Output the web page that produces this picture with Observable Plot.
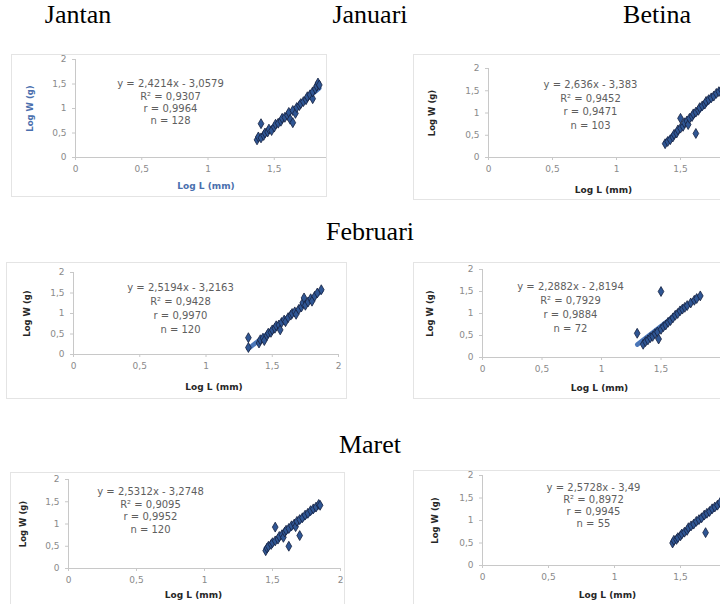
<!DOCTYPE html>
<html><head><meta charset="utf-8">
<script src="https://cdn.jsdelivr.net/npm/d3@7"></script>
<script src="https://cdn.jsdelivr.net/npm/@observablehq/plot@0.6"></script>
<style>
html,body{margin:0;padding:0;background:#fff}
body{width:720px;height:604px;overflow:hidden;position:relative;font-family:"Liberation Serif","Times New Roman",serif}
.h{position:absolute;font-size:26px;color:#000;transform:translate(-50%,-50%);white-space:nowrap;line-height:1}
.panel{position:absolute;overflow:hidden;background:#fff}
.panel svg{position:absolute;left:0;top:0;overflow:visible;max-width:none !important}
.frame{position:absolute;border:1px solid #e4e4e4;box-sizing:border-box;pointer-events:none}
</style></head><body>
<script>
// ---- headings ----
const months = ["Januari", "Februari", "Maret"];
const sexes = ["Jantan", "Betina"];

// ---- axis ticks ----
const xTicksAll = [0, 0.5, 1, 1.5, 2];
const xTicksCut = [0, 0.5, 1, 1.5];
const yTicks = [0, 0.5, 1, 1.5, 2];
const xLabel = "Log L (mm)";
const yLabel = "Log W (g)";

// ---- data (log L, log W) ----
const janJantan = [[1.37,0.36],[1.38,0.42],[1.40,0.40],[1.40,0.69],[1.42,0.45],[1.43,0.50],[1.45,0.52],[1.46,0.58],[1.48,0.55],[1.50,0.62],[1.51,0.68],[1.53,0.70],[1.55,0.74],[1.56,0.80],[1.58,0.82],[1.60,0.86],[1.61,0.92],[1.62,0.78],[1.64,0.71],[1.64,0.96],[1.66,0.90],[1.67,1.02],[1.69,1.06],[1.70,1.10],[1.72,1.14],[1.74,1.18],[1.75,1.24],[1.77,1.28],[1.79,1.20],[1.79,1.34],[1.81,1.40],[1.82,1.46],[1.83,1.52],[1.84,1.48]];
const janBetina = [[1.38,0.31],[1.40,0.36],[1.42,0.40],[1.44,0.46],[1.45,0.52],[1.47,0.55],[1.48,0.62],[1.50,0.66],[1.50,0.88],[1.52,0.70],[1.53,0.78],[1.55,0.82],[1.56,0.74],[1.57,0.88],[1.59,0.92],[1.60,0.98],[1.62,0.54],[1.62,1.02],[1.64,1.06],[1.65,1.12],[1.67,1.16],[1.69,1.20],[1.70,1.26],[1.72,1.30],[1.74,1.34],[1.76,1.38],[1.78,1.44],[1.80,1.48],[1.82,1.52],[1.85,1.58]];
const febJantan = [[1.32,0.41],[1.32,0.17],[1.40,0.28],[1.41,0.36],[1.43,0.40],[1.44,0.34],[1.46,0.46],[1.47,0.52],[1.49,0.54],[1.50,0.60],[1.52,0.64],[1.53,0.70],[1.55,0.72],[1.56,0.60],[1.57,0.78],[1.59,0.84],[1.60,0.80],[1.62,0.90],[1.64,0.96],[1.65,1.00],[1.67,1.04],[1.68,0.98],[1.70,1.10],[1.72,1.16],[1.73,1.26],[1.74,1.38],[1.75,1.20],[1.77,1.28],[1.79,1.36],[1.80,1.30],[1.82,1.42],[1.84,1.50],[1.87,1.58]];
const febBetina = [[1.30,0.55],[1.50,1.50],[1.35,0.30],[1.37,0.36],[1.39,0.40],[1.41,0.45],[1.43,0.48],[1.45,0.54],[1.47,0.58],[1.48,0.42],[1.50,0.64],[1.52,0.70],[1.54,0.74],[1.56,0.80],[1.58,0.84],[1.60,0.90],[1.62,0.96],[1.64,1.00],[1.66,1.06],[1.68,1.10],[1.70,1.14],[1.72,1.18],[1.75,1.24],[1.78,1.30],[1.80,1.34],[1.83,1.40]];
const marJantan = [[1.45,0.40],[1.46,0.46],[1.47,0.50],[1.49,0.54],[1.50,0.58],[1.52,0.62],[1.52,0.93],[1.54,0.66],[1.55,0.72],[1.57,0.76],[1.58,0.70],[1.59,0.82],[1.60,0.86],[1.62,0.50],[1.62,0.90],[1.64,0.96],[1.66,1.00],[1.67,0.94],[1.68,1.06],[1.70,0.74],[1.70,1.10],[1.72,1.14],[1.74,1.20],[1.76,1.24],[1.78,1.30],[1.80,1.34],[1.82,1.38],[1.84,1.44],[1.85,1.42]];
const marBetina = [[1.44,0.50],[1.45,0.56],[1.47,0.58],[1.48,0.62],[1.50,0.66],[1.51,0.70],[1.53,0.74],[1.55,0.78],[1.56,0.84],[1.58,0.88],[1.60,0.92],[1.62,0.98],[1.64,1.02],[1.66,1.06],[1.68,1.12],[1.69,0.73],[1.70,1.16],[1.72,1.20],[1.74,1.26],[1.76,1.30],[1.78,1.34],[1.80,1.40]];

// ---- regression annotations ----
const eqJanJantan = ["y = 2,4214x - 3,0579", "R² = 0,9307", "r = 0,9964", "n = 128"];
const eqJanBetina = ["y = 2,636x - 3,383", "R² = 0,9452", "r = 0,9471", "n = 103"];
const eqFebJantan = ["y = 2,5194x - 3,2163", "R² = 0,9428", "r = 0,9970", "n = 120"];
const eqFebBetina = ["y = 2,2882x - 2,8194", "R² = 0,7929", "r = 0,9884", "n = 72"];
const eqMarJantan = ["y = 2,5312x - 3,2748", "R² = 0,9095", "r = 0,9952", "n = 120"];
const eqMarBetina = ["y = 2,5728x - 3,49", "R² = 0,8972", "r = 0,9945", "n = 55"];

const fmt = d => String(d).replace(".", ",");
const sans = "DejaVu Sans, Verdana, sans-serif";

// ---- headings layout ----
function heading(text, cx, cy) {
  const el = document.createElement("div");
  el.className = "h"; el.textContent = text;
  el.style.left = cx + "px"; el.style.top = cy + "px";
  document.body.appendChild(el);
}
heading(sexes[0], 78, 15);
heading(months[0], 370, 15);
heading(sexes[1], 657, 15);
heading(months[1], 370, 232);
heading(months[2], 370, 445);

// ---- panel layout (page pixels) ----
const layout = [
  {pts: janJantan, eq: eqJanJantan, xt: xTicksCut, box:[11,54,326,196], x0:75, x2:340, yTop:59, yBot:157, eqDx:95, eqDy:19, lh:1.23, xlDx:-2, xlDy:29, ylDx:-45, blue:true},
  {pts: janBetina, eq: eqJanBetina, xt: xTicksCut, box:[413,54,720,199], x0:488, x2:744, yTop:68, yBot:157, eqDx:102, eqDy:10, lh:1.35, xlDx:-13, xlDy:33, ylDx:-56},
  {pts: febJantan, eq: eqFebJantan, xt: xTicksAll, box:[6,262,346,398], x0:73, x2:338, yTop:272, yBot:354, eqDx:107, eqDy:9, lh:1.4, xlDx:8, xlDy:33, ylDx:-46},
  {pts: febBetina, eq: eqFebBetina, xt: xTicksCut, box:[413,262,720,398], x0:482, x2:720, yTop:269, yBot:357, eqDx:88, eqDy:11, lh:1.4, xlDx:-2, xlDy:31, ylDx:-52},
  {pts: marJantan, eq: eqMarJantan, xt: xTicksAll, box:[10,472,344,610], x0:68, x2:340, yTop:479, yBot:568, eqDx:82, eqDy:7, lh:1.25, xlDx:-11, xlDy:27, ylDx:-45},
  {pts: marBetina, eq: eqMarBetina, xt: xTicksCut, box:[413,470,720,610], x0:482, x2:746, yTop:475, yBot:565, eqDx:111, eqDy:7, lh:1.2, xlDx:-7, xlDy:30, ylDx:-47}
];

for (const c of layout) {
  const [bl, bt, br, bb] = c.box;
  const boxW = br - bl, boxH = bb - bt;
  const W = Math.max(boxW, c.x2 - bl + 20);
  const H = boxH + 30;
  const titleColor = c.blue ? "#4a6fae" : "#262626";
  const chart = Plot.plot({
    width: W, height: H,
    marginLeft: c.x0 - bl,
    marginRight: W - (c.x2 - bl),
    marginTop: c.yTop - bt,
    marginBottom: H - (c.yBot - bt),
    style: {background: "transparent", fontFamily: sans, maxWidth: "none"},
    x: {domain: [0, 2]},
    y: {domain: [0, 2]},
    marks: [
      Plot.ruleY([0], {stroke: "#c8c8c8", strokeWidth: 1}),
      Plot.ruleX([0], {stroke: "#c8c8c8", strokeWidth: 1}),
      Plot.axisX(c.xt, {tickFormat: fmt, tickSize: 3, tickPadding: 5, stroke: "#c8c8c8", fill: "#8a8a8a", fontSize: 9, label: null}),
      Plot.axisY(yTicks, {tickFormat: fmt, tickSize: 3, tickPadding: 6, stroke: "#c8c8c8", fill: "#8a8a8a", fontSize: 9, label: null}),
      Plot.linearRegressionY(c.pts, {x: d => d[0], y: d => d[1], stroke: "#4a76b8", strokeWidth: 4.5, ci: 0}),
      Plot.dot(c.pts, {x: d => d[0], y: d => d[1], symbol: "diamond", r: 3, fill: "#2f5694", stroke: "#15213f", strokeWidth: 0.8}),
      Plot.text([c.eq.join("\n")], {frameAnchor: "top-left", dx: c.eqDx, dy: c.eqDy, textAnchor: "middle", lineAnchor: "top", lineHeight: c.lh, fontSize: 10, fill: "#5e5e5e"}),
      Plot.text([xLabel], {frameAnchor: "bottom", dx: c.xlDx, dy: c.xlDy, lineAnchor: "middle", fontSize: 9, fontWeight: "bold", fill: titleColor}),
      Plot.text([yLabel], {frameAnchor: "left", dx: c.ylDx, rotate: -90, lineAnchor: "middle", textAnchor: "middle", fontSize: 8.5, fontWeight: "bold", fill: titleColor})
    ]
  });
  const div = document.createElement("div");
  div.className = "panel";
  div.style.left = bl + "px"; div.style.top = bt + "px";
  div.style.width = boxW + "px"; div.style.height = boxH + "px";
  div.appendChild(chart);
  document.body.appendChild(div);
  const fr = document.createElement("div");
  fr.className = "frame";
  fr.style.left = bl + "px"; fr.style.top = bt + "px";
  fr.style.width = (boxW + 1) + "px"; fr.style.height = (boxH + 1) + "px";
  document.body.appendChild(fr);
}
</script>
</body></html>
